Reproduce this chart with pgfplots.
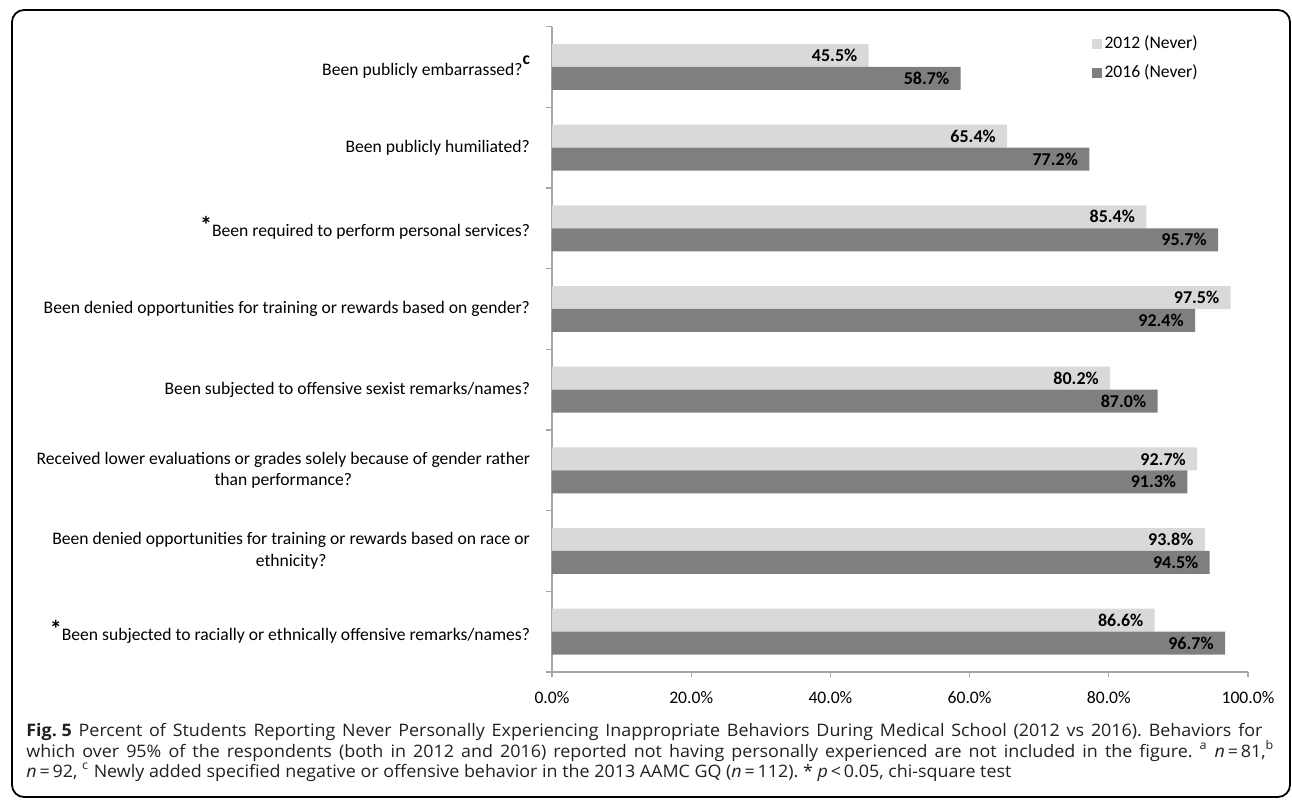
\documentclass[border=0pt]{standalone}
\usepackage{pgfplots}
\pgfplotsset{compat=1.18}
\usepackage{fontspec}
\setmainfont{Carlito}
\newfontfamily\capfont[FakeStretch=1.04]{Open Sans}
\definecolor{bar12}{HTML}{D9D9D9}
\definecolor{bar16}{HTML}{7F7F7F}
\definecolor{axgray}{HTML}{A6A6A6}
\definecolor{captxt}{HTML}{231F20}

\pgfplotstableread{
idx y2012 y2016
0 45.5 58.7
1 65.4 77.2
2 85.4 95.7
3 97.5 92.4
4 80.2 87.0
5 92.7 91.3
6 93.8 94.5
7 86.6 96.7
}\neverdata

\begin{document}
\frenchspacing
\begin{tikzpicture}
\path[use as bounding box] (0,0) rectangle (646pt,399.5pt);
\draw[line width=0.9pt, rounded corners=6pt] (6pt,1pt) rectangle (645pt,394.5pt);

\begin{axis}[
  at={(276pt,63.5pt)}, anchor=south west,
  scale only axis,
  width=348pt, height=322.7pt,
  xbar, bar width=0.285,
  xmin=0, xmax=100,
  ymin=-0.5, ymax=7.5,
  y dir=reverse,
  axis x line*=bottom, axis y line*=left,
  axis line style={axgray, line width=0.6pt},
  tick align=outside,
  major tick length=2.5pt,
  tick style={axgray, line width=0.6pt},
  xtick={0,20,...,100},
  xticklabel={\pgfmathprintnumber[fixed,fixed zerofill,precision=1]{\tick}\%},
  /pgf/number format/assume math mode=true,
  ytick={0,...,7},
  ytick style={draw=none},
  extra y ticks={-0.5,0.5,...,7.5},
  extra y tick labels={},
  extra y tick style={ytick style={draw=axgray, line width=0.6pt}, major tick length=3pt},
  yticklabels={
    {Been publicly embarrassed?\raisebox{5.5pt}{\bfseries c}},
    {Been publicly humiliated?},
    {\raisebox{1.5pt}{\bfseries\large *}Been required to perform personal services?},
    {Been denied opportunities for training or rewards based on gender?},
    {Been subjected to offensive sexist remarks/names?},
    {Received lower evaluations or grades solely because of gender rather\\than performance?},
    {Been denied opportunities for training or rewards based on race or\\ethnicity?},
    {\raisebox{1.5pt}{\bfseries\large *}Been subjected to racially or ethnically offensive remarks/names?}
  },
  yticklabel style={align=center, font=\fontsize{8.8}{10.7}\selectfont, xshift=-5pt},
  xticklabel style={font=\fontsize{8.8}{10.5}\selectfont, yshift=-3.5pt},
  nodes near coords={\pgfmathprintnumber[fixed,fixed zerofill,precision=1]{\pgfplotspointmeta}\%},
  point meta=explicit,
  every node near coord/.append style={anchor=east, inner sep=0pt, xshift=-5.5pt,
    font=\bfseries\fontsize{9}{10}\selectfont, black},
  legend style={draw=none, fill=none, at={(rel axis cs:0.766,0.997)}, anchor=north west,
    font=\fontsize{8.8}{10.5}\selectfont, row sep=3.5pt,
    nodes={inner sep=1.5pt}},
  legend cell align=left,
]
\addplot[fill=bar12, draw=none, bar shift=-0.142,
  legend image code/.code={\fill[bar12] (0pt,-2.5pt) rectangle (5pt,2.5pt);}]
  table[x=y2012, y=idx, meta=y2012] {\neverdata};
\addlegendentry{2012 (Never)}
\addplot[fill=bar16, draw=none, bar shift=0.142,
  legend image code/.code={\fill[bar16] (0pt,-2.5pt) rectangle (5pt,2.5pt);}]
  table[x=y2016, y=idx, meta=y2016] {\neverdata};
\addlegendentry{2016 (Never)}
\end{axis}

\begin{scope}[every node/.style={anchor=base west, inner sep=0pt, text=captxt,
    font=\capfont\fontsize{8.6}{10}\selectfont}]
\node at (13pt,31pt) {\makebox[618pt][s]{\textbf{Fig.\hspace{0.28em}5} Percent of Students Reporting Never Personally Experiencing Inappropriate Behaviors During Medical School (2012 vs 2016). Behaviors for}};
\node at (13pt,21pt) {\makebox[624pt][s]{which over 95\% of the respondents (both in 2012 and 2016) reported not having personally experienced are not included in the figure. \textsuperscript{a} \textit{n}\,=\,81,\textsuperscript{b}}};
\node at (13pt,11pt) {\textit{n}\,=\,92, \textsuperscript{c} Newly added specified negative or offensive behavior in the 2013 AAMC GQ (\textit{n}\,=\,112). * \textit{p}\,<\,0.05, chi-square test};
\end{scope}
\end{tikzpicture}
\end{document}
